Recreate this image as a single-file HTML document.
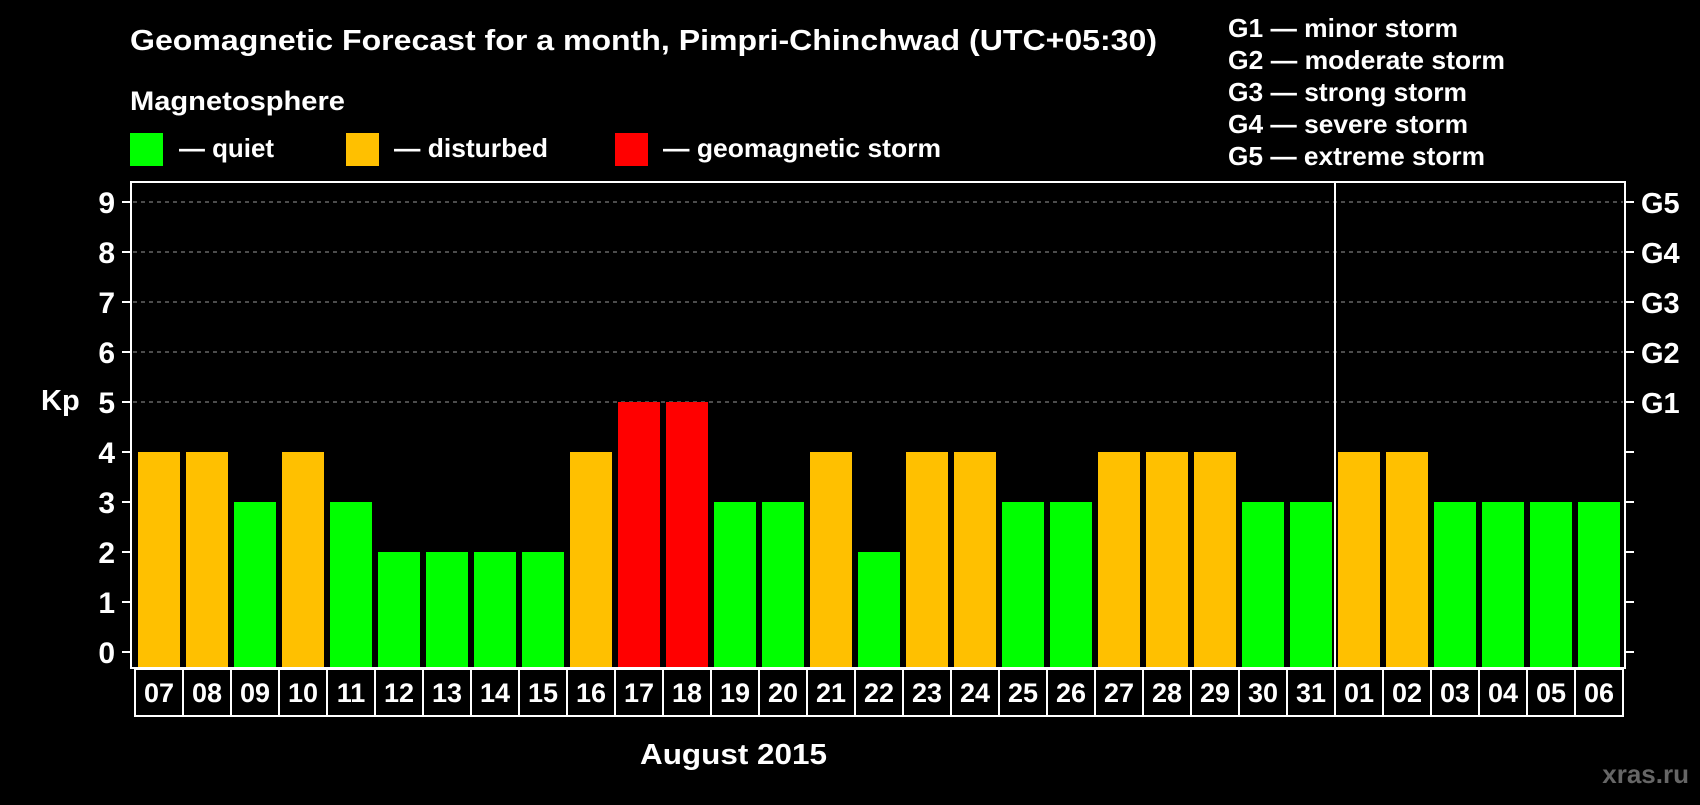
<!DOCTYPE html>
<html><head><meta charset="utf-8"><style>
body{margin:0;background:#000;width:1700px;height:800px;overflow:hidden;font-family:"Liberation Sans",sans-serif;font-weight:bold;color:#fff}
svg text{font-family:"Liberation Sans",sans-serif;font-weight:bold}
</style></head><body>
<svg width="1700" height="800">
<text x="130" y="50" font-size="29" fill="#fff" textLength="1027" lengthAdjust="spacingAndGlyphs">Geomagnetic Forecast for a month, Pimpri-Chinchwad (UTC+05:30)</text>
<text x="130" y="110" font-size="27" fill="#fff" textLength="215" lengthAdjust="spacingAndGlyphs">Magnetosphere</text>
<g><rect x="130" y="133" width="33" height="33" fill="#00ff00"/><text x="179" y="157" font-size="26" fill="#fff" textLength="95" lengthAdjust="spacingAndGlyphs">— quiet</text></g>
<g><rect x="346" y="133" width="33" height="33" fill="#ffc000"/><text x="394" y="157" font-size="26" fill="#fff" textLength="154" lengthAdjust="spacingAndGlyphs">— disturbed</text></g>
<g><rect x="615" y="133" width="33" height="33" fill="#ff0000"/><text x="663" y="157" font-size="26" fill="#fff" textLength="278" lengthAdjust="spacingAndGlyphs">— geomagnetic storm</text></g>
<g font-size="26" fill="#fff">
<text x="1228" y="37" textLength="230" lengthAdjust="spacingAndGlyphs">G1 — minor storm</text>
<text x="1228" y="69" textLength="277" lengthAdjust="spacingAndGlyphs">G2 — moderate storm</text>
<text x="1228" y="101" textLength="239" lengthAdjust="spacingAndGlyphs">G3 — strong storm</text>
<text x="1228" y="133" textLength="240" lengthAdjust="spacingAndGlyphs">G4 — severe storm</text>
<text x="1228" y="165" textLength="257" lengthAdjust="spacingAndGlyphs">G5 — extreme storm</text></g>
<text x="41" y="410" font-size="29" fill="#fff">Kp</text>
<text x="640" y="764" font-size="29" fill="#fff" textLength="187" lengthAdjust="spacingAndGlyphs">August 2015</text>
<text x="1689" y="783" font-size="26" fill="#666" text-anchor="end">xras.ru</text>
<g id="grid"></g><g id="bars"></g><g id="labels"></g>
<rect x="131" y="182" width="1494" height="486" fill="none" stroke="#fff" stroke-width="2"/>
<line x1="1335" y1="182" x2="1335" y2="716" stroke="#fff" stroke-width="2"/>
</svg>
<script>
const days=["07","08","09","10","11","12","13","14","15","16","17","18","19","20","21","22","23","24","25","26","27","28","29","30","31","01","02","03","04","05","06"];
const kp=[4,4,3,4,3,2,2,2,2,4,5,5,3,3,4,2,4,4,3,3,4,4,4,3,3,4,4,3,3,3,3];
const yTicks=[0,1,2,3,4,5,6,7,8,9];
const gLabels=["G1","G2","G3","G4","G5"];
const NS="http://www.w3.org/2000/svg";
const y=v=>652-v*50;
const x=i=>138+i*48;
function mk(t,a,p){const e=document.createElementNS(NS,t);for(const k in a)e.setAttribute(k,a[k]);p.appendChild(e);return e;}
const grid=document.getElementById('grid'),bars=document.getElementById('bars'),labels=document.getElementById('labels');
yTicks.forEach(v=>{
 const yy=y(v);
 if(v>=5){const l=mk('line',{x1:133,x2:1623,y1:yy,y2:yy,stroke:'#999','stroke-dasharray':'4,4','stroke-width':1},grid);
 
 }
 mk('line',{x1:122,x2:131,y1:yy,y2:yy,stroke:'#fff','stroke-width':2},grid);
 mk('line',{x1:1625,x2:1634,y1:yy,y2:yy,stroke:'#fff','stroke-width':2},grid);
 const t=mk('text',{x:115,y:yy+11,'font-size':30,fill:'#fff','text-anchor':'end'},grid);t.textContent=v;
 
 
 if(v>=5){const g=mk('text',{x:1641,y:yy+11,'font-size':29,fill:'#fff'},grid);g.textContent=gLabels[v-5];
 
 }
});
kp.forEach((v,i)=>{
 const c=v>=5?'#ff0000':(v>=4?'#ffc000':'#00ff00');
 const r=mk('rect',{x:x(i),y:y(v),width:42,height:667-y(v),fill:c},bars);
 
 
 const b=mk('rect',{x:135+i*48,y:669,width:48,height:47,fill:'none',stroke:'#fff','stroke-width':2},labels);
 
 
 const t=mk('text',{x:159+i*48,y:702,'font-size':27,fill:'#fff','text-anchor':'middle'},labels);t.textContent=days[i];
 
 
});
</script>
</body></html>
